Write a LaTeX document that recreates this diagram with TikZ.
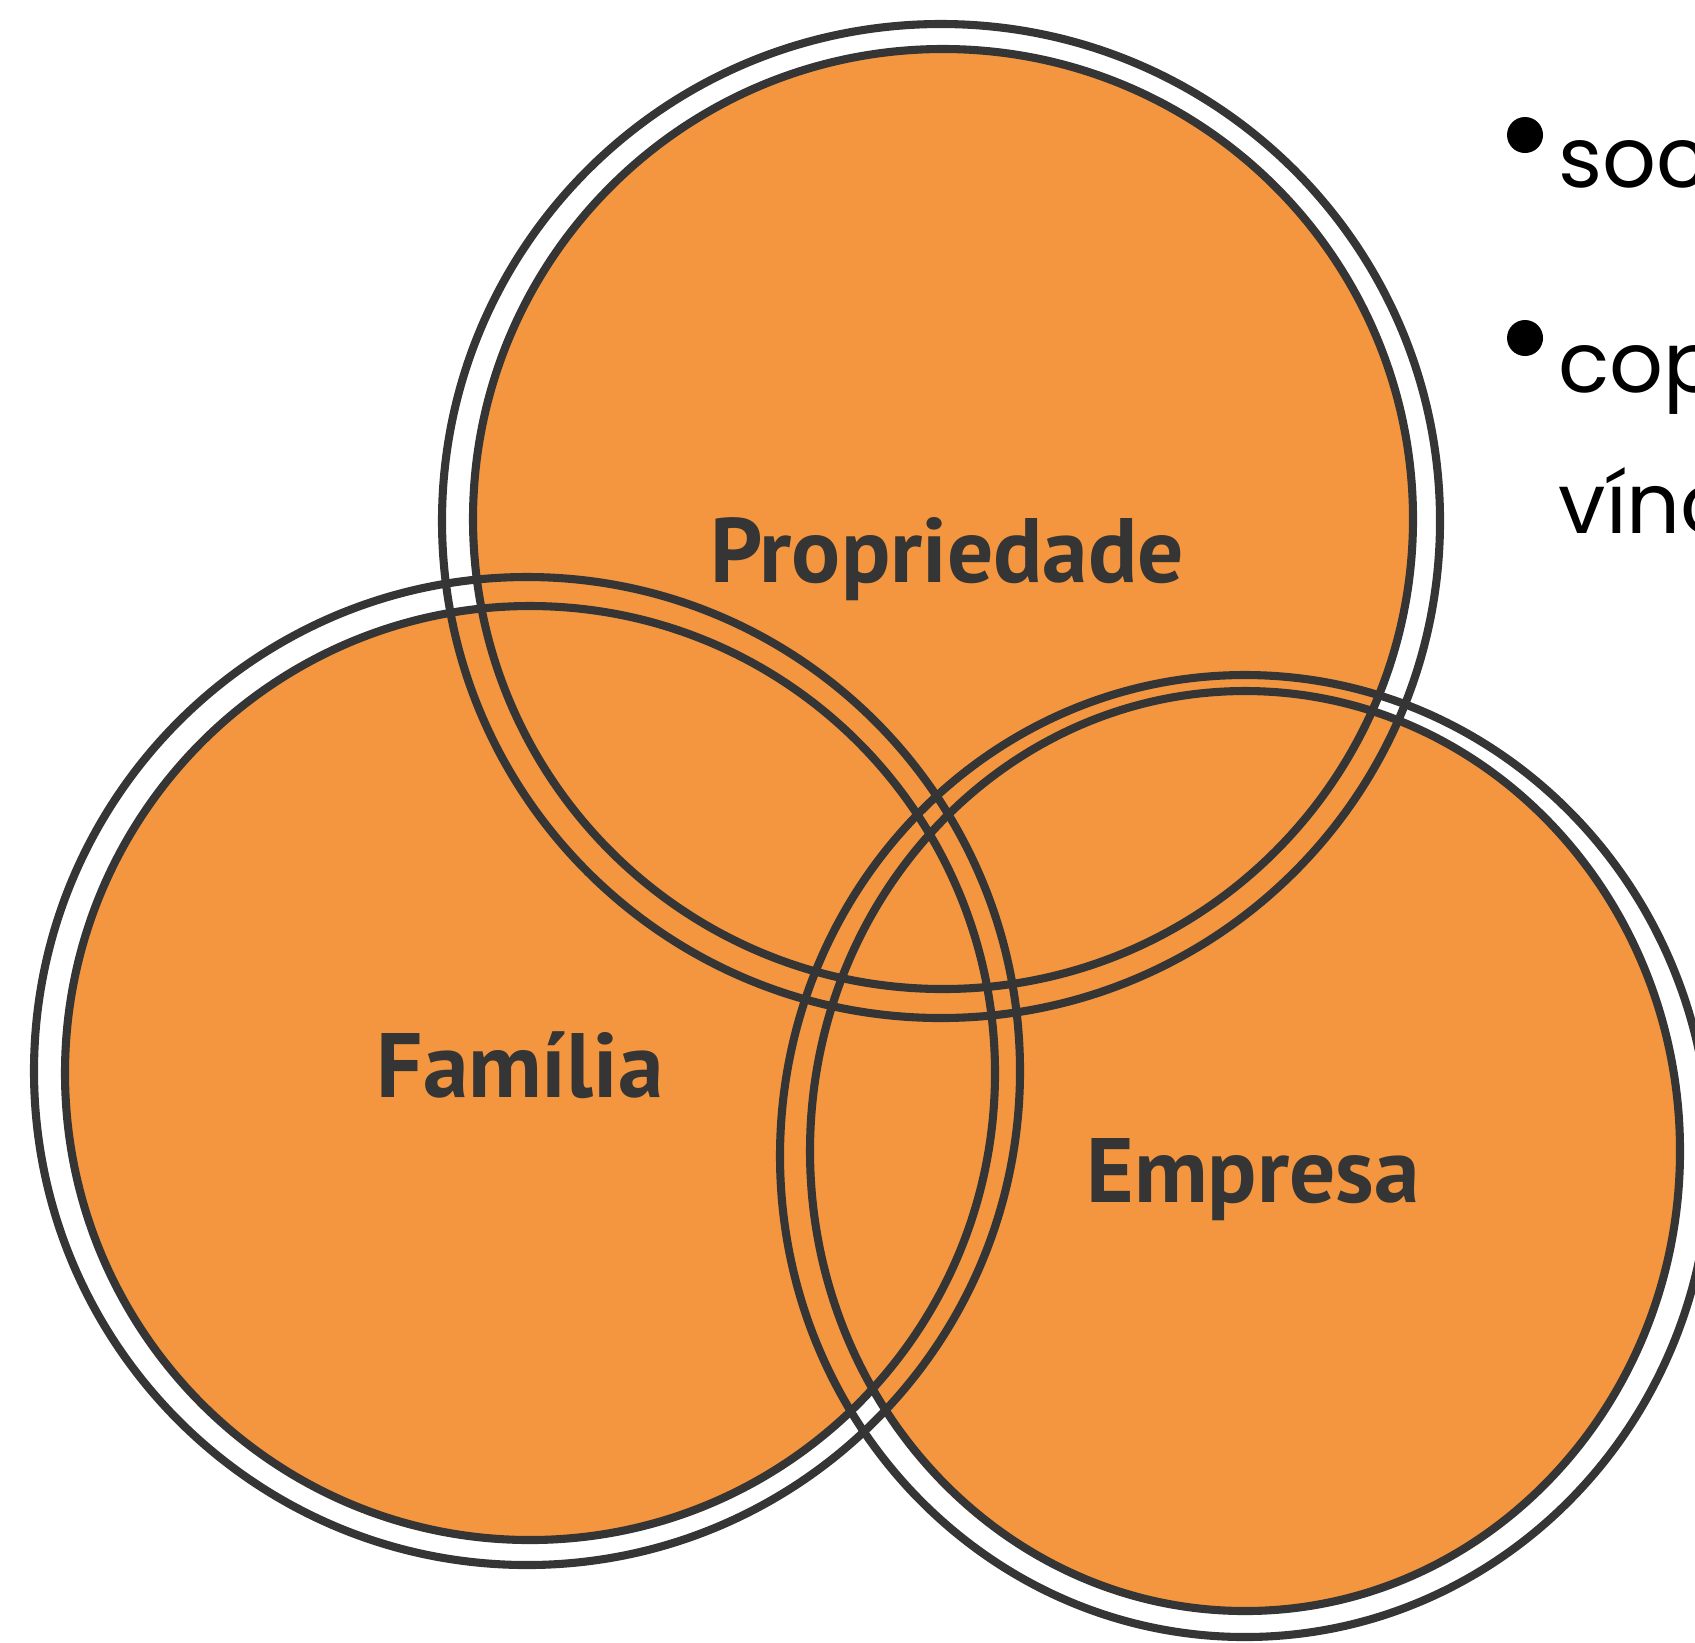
\documentclass[tikz,border=0pt]{standalone}
\usepackage{fontspec}
\setmainfont{Poppins}
\newfontfamily\labelfont{PT Sans}
\definecolor{venn}{HTML}{F3963F}
\definecolor{ink}{HTML}{353535}

\begin{document}
\begin{tikzpicture}[
    x=0.01cm,y=-0.01cm,
    ring/.style={ink, line width=2.3pt},
    lbl/.style={anchor=base, text=ink, font=\labelfont\bfseries\fontsize{26}{30}\selectfont},
    side/.style={anchor=base west, text=black, inner sep=0pt, font=\fontsize{24}{28}\selectfont}
    ]
    \clip (0,0) rectangle (1695,1642);
    % fills first, so every outline stays on top
    \fill[venn] (943,519) ellipse (470 and 470);
    \fill[venn] (530,1073) ellipse (465 and 467);
    \fill[venn] (1245,1151) ellipse (435 and 460);
    % Propriedade
    \draw[ring] (943,519) ellipse (470 and 470);
    \draw[ring] (941,521) ellipse (499 and 497);
    % Familia
    \draw[ring] (530,1073) ellipse (465 and 467);
    \draw[ring] (527,1071) ellipse (493 and 494);
    % Empresa
    \draw[ring] (1245,1151) ellipse (435 and 460);
    \draw[ring] (1245,1156) ellipse (465 and 481);
    \node[lbl] (prop) at (947,582) {Propriedade};
    \node[lbl] (fam) at (520,1097) {Família};
    \node[lbl] (emp) at (1253,1202) {Empresa};
    % text running off the right edge
    \fill (1525,135) circle (18);
    \fill (1525,338) circle (18);
    \node[side] (soc) at (1558,187) {soc};
    \node[side] (cop) at (1558,392) {cop};
    \node[side] (vinc) at (1558,533) {vínc};
    \node[side, anchor=base east] (frag) at (5,1303) {s};
\end{tikzpicture}
\end{document}
